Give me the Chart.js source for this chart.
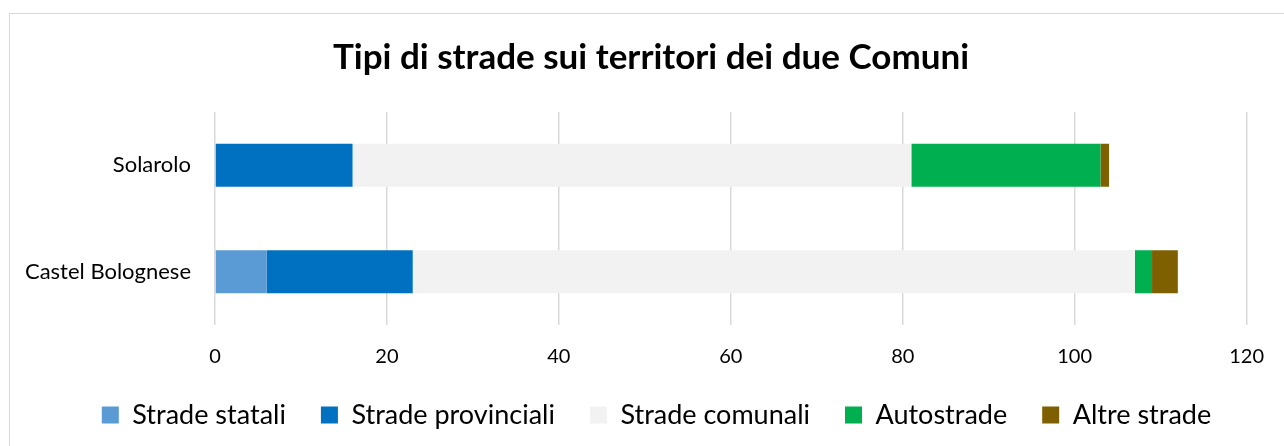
<!DOCTYPE html>
<html><head><meta charset="utf-8">
<script src="https://cdn.jsdelivr.net/npm/chart.js@4.4.1/dist/chart.umd.min.js"></script>
<style>
html,body{margin:0;padding:0;background:#fff;}
#wrap{position:relative;width:1284px;height:446px;}
#frame{position:absolute;left:9px;top:13px;width:1290px;height:450px;border-left:1.5px solid #d9d9d9;border-top:1.5px solid #d9d9d9;box-sizing:border-box;pointer-events:none;}
canvas{position:absolute;left:0;top:0;}
</style></head>
<body><div id="wrap"><canvas id="c" width="1284" height="446"></canvas><div id="frame"></div></div>
<script>
const categories = ["Solarolo", "Castel Bolognese"];
const seriesNames = ["Strade statali", "Strade provinciali", "Strade comunali", "Autostrade", "Altre strade"];
const stradeStatali = [0, 6];
const stradeProvinciali = [16, 17];
const stradeComunali = [65, 84];
const autostrade = [22, 2];
const altreStrade = [1, 3];
const xTicks = [0, 20, 40, 60, 80, 100, 120];
const colors = ["#5B9BD5", "#0070C0", "#F2F2F2", "#00B050", "#7F6000"];
const values = [stradeStatali, stradeProvinciali, stradeComunali, autostrade, altreStrade];
const FONT = "Lato, 'Open Sans', sans-serif";

const shiftBlocks = {
  id: 'shiftBlocks',
  afterLayout(chart) {
    if (chart.titleBlock) { chart.titleBlock.left += 35; }
    if (chart.legend) { chart.legend.left += 23; chart.legend.right += 23; }
  }
};

new Chart(document.getElementById('c'), {
  type: 'bar',
  data: {
    labels: categories,
    datasets: seriesNames.map((n, i) => ({
      label: n, data: values[i], backgroundColor: colors[i], borderWidth: 0,
      categoryPercentage: 1, barPercentage: 0.404
    }))
  },
  plugins: [shiftBlocks],
  options: {
    indexAxis: 'y', responsive: false, animation: false,
    layout: {padding: {left: 20, right: 37, top: 0, bottom: 7.5}},
    plugins: {
      title: {display: true, text: 'Tipi di strade sui territori dei due Comuni', color: '#000',
        font: {family: FONT, size: 35, weight: 'bold'}, padding: {top: 37, bottom: 33}},
      legend: {position: 'bottom', labels: {color: '#000', font: {family: FONT, size: 27}, boxWidth: 17, boxHeight: 17, padding: 35}},
      tooltip: {enabled: false}
    },
    scales: {
      x: {stacked: true, min: 0, max: 120,
        afterBuildTicks: s => { s.ticks = xTicks.map(v => ({value: v})); },
        afterFit: s => { s.height = 41.5; },
        ticks: {color: '#000', font: {family: FONT, size: 20}, padding: 20},
        grid: {color: '#d9d9d9', lineWidth: 1.5, drawTicks: false},
        border: {display: false}
      },
      y: {stacked: true,
        afterFit: s => { s.width = 195; },
        ticks: {color: '#000', font: {family: FONT, size: 22}, padding: 24},
        grid: {display: false, drawTicks: false},
        border: {display: false}
      }
    }
  }
});
</script></body></html>
